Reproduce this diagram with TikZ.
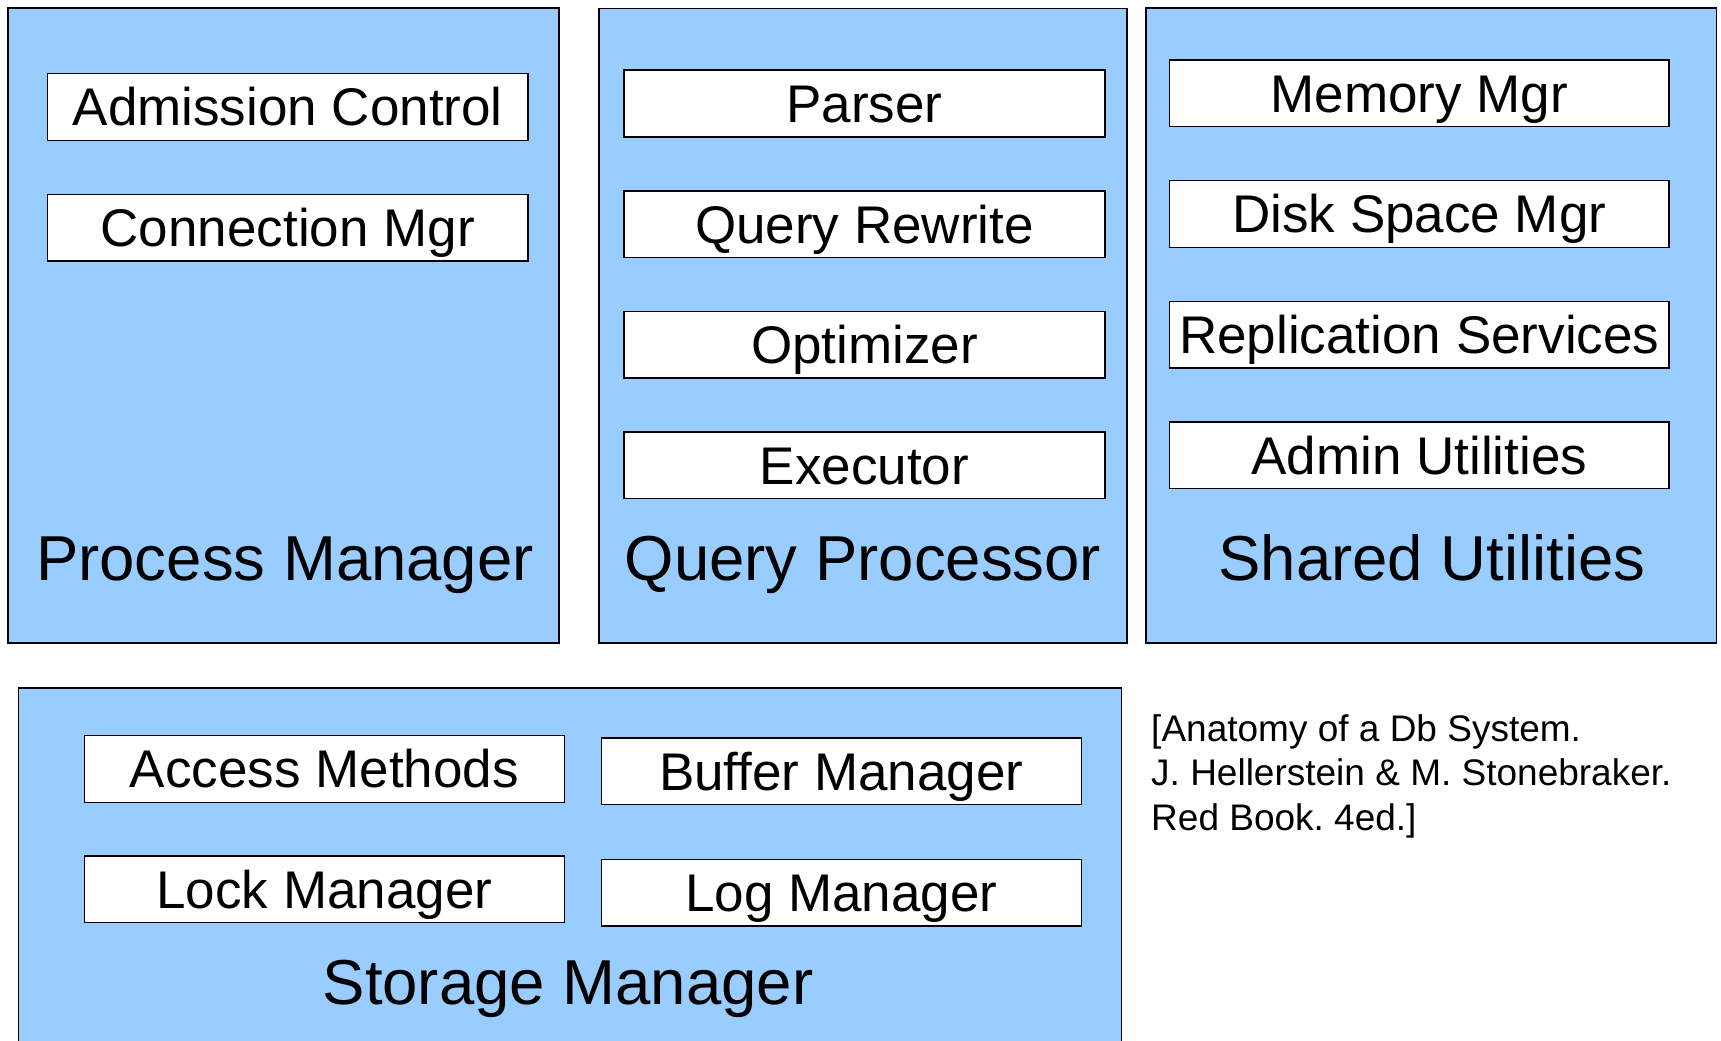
\documentclass[tikz,border=0pt]{standalone}
\usepackage{fontspec}
\setmainfont{Liberation Sans}
\frenchspacing
\definecolor{grpblue}{HTML}{99CCFF}
\tikzset{
  grp/.style={draw=black, fill=grpblue, line width=1.5pt, rectangle, inner sep=0pt},
  comp/.style={draw=black, fill=white, line width=1.5pt, rectangle, inner sep=0pt,
    minimum height=66.6pt, font=\fontsize{53}{60}\selectfont, text height=37.9pt, text depth=0pt},
  pmcomp/.style={comp, minimum width=480.5pt},
  qpcomp/.style={comp, minimum width=481pt},
  sucomp/.style={comp, minimum width=499.5pt},
  smcomp/.style={comp, minimum width=480pt},
  grplabel/.style={inner sep=0pt, font=\fontsize{63.5}{70}\selectfont, text height=45.5pt, text depth=0pt},
  citeline/.style={inner sep=0pt, anchor=base west, font=\fontsize{37}{44.5}\selectfont}
}
\begin{document}
\begin{tikzpicture}[x=1pt, y=-1pt]
\useasboundingbox (0,0) rectangle (1721,1041);
\clip (0,0) rectangle (1721,1041);
\fill[white] (0,0) rectangle (1721,1041);

% Process Manager
\node[grp, minimum width=551pt, minimum height=635pt] (pm) at (283.5,325.5) {};
\node[pmcomp] (adm) at (287.75,107) {Admission Control};
\node[pmcomp] (con) at (287.75,227.9) {Connection Mgr};
\node[grplabel] (pmlabel) at (285,557.5) {Process Manager};

% Query Processor
\node[grp, minimum width=528pt, minimum height=634.5pt] (qp) at (863,325.75) {};
\node[qpcomp] (par) at (864.5,103.5) {Parser};
\node[qpcomp] (rew) at (864.5,224.1) {Query Rewrite};
\node[qpcomp] (opt) at (864.5,344.7) {Optimizer};
\node[qpcomp] (exe) at (864.5,465.3) {Executor};
\node[grplabel] (qplabel) at (863,557.5) {Query Processor};

% Shared Utilities
\node[grp, minimum width=570.5pt, minimum height=635pt] (su) at (1431.25,325.5) {};
\node[sucomp] (mem) at (1419.3,93.3) {Memory Mgr};
\node[sucomp] (dsk) at (1419.3,214) {Disk Space Mgr};
\node[sucomp] (rep) at (1419.3,334.7) {Replication Services};
\node[sucomp] (adu) at (1419.3,455.4) {Admin Utilities};
\node[grplabel] (sulabel) at (1432,557.5) {Shared Utilities};

% Storage Manager
\node[grp, minimum width=1103pt, minimum height=382pt] (sm) at (570.2,879) {};
\node[smcomp] (acc) at (324.35,769) {Access Methods};
\node[smcomp] (lck) at (324.35,889.3) {Lock Manager};
\node[smcomp] (buf) at (841.3,771.2) {Buffer Manager};
\node[smcomp] (log) at (841.3,892.9) {Log Manager};
\node[grplabel] (smlabel) at (568,981.5) {Storage Manager};

% Citation
\node[citeline] (cite1) at (1151,741) {[Anatomy of a Db System.};
\node[citeline] (cite2) at (1151,785.5) {J. Hellerstein \& M. Stonebraker.};
\node[citeline] (cite3) at (1151,830) {Red Book. 4ed.]};
\end{tikzpicture}
\end{document}
